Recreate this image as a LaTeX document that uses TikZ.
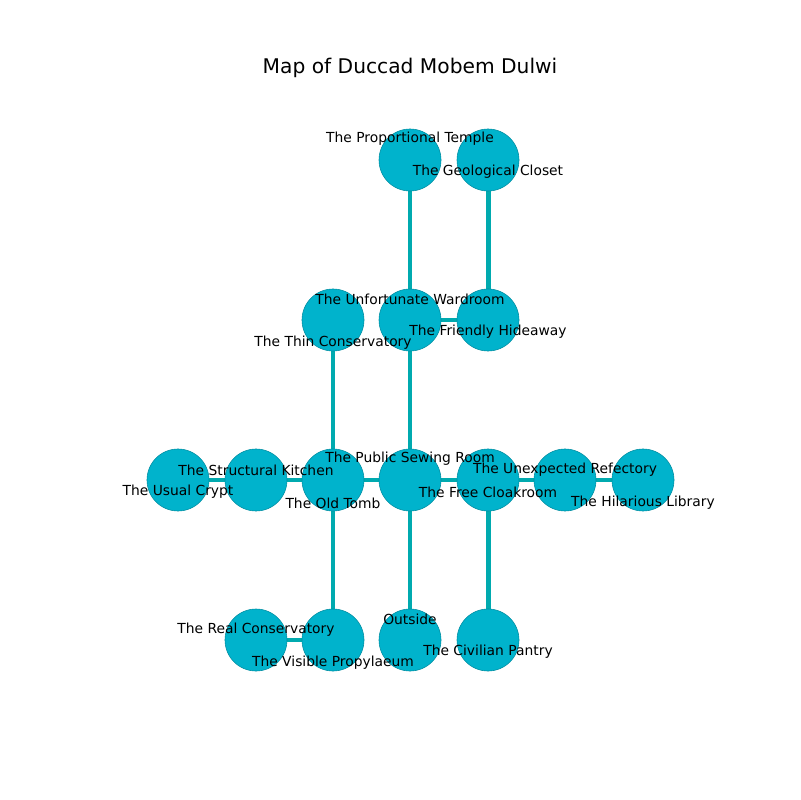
\documentclass[tikz,border=0pt]{standalone}
\usepackage{fontspec}
\setmainfont{DejaVu Sans}
\usetikzlibrary{backgrounds}
\definecolor{roomfill}{RGB}{0,179,204}
\definecolor{roomline}{RGB}{0,140,160}
\definecolor{passage}{RGB}{0,170,175}

\begin{document}
\begin{tikzpicture}
    [x=0.01in, y=-0.01in,
    room/.style={circle, fill=roomfill, draw=roomline, line width=0.4pt,
      minimum size=0.62in, inner sep=0pt},
    tag/.style={font=\fontsize{10}{12}\selectfont, inner sep=0pt},
    tagup/.style={tag, yshift=0.21in},
    taghi/.style={tag, yshift=0.10in},
    taglo/.style={tag, yshift=-0.12in},
    tagdown/.style={tag, yshift=-0.23in},
    link/.style={line width=3.6pt, draw=passage}]
    \useasboundingbox (0,0) rectangle (800,800);
    \node[font=\fontsize{14.6}{17}\selectfont] (title) at (410,68) {Map of Duccad Mobem Dulwi};

    % top row
    \node[room] (temple) at (410,160) {};
    \node[room] (closet) at (488,160) {};
    % second row
    \node[room] (thin) at (333,320) {};
    \node[room] (wardroom) at (410,320) {};
    \node[room] (hideaway) at (488,320) {};
    % middle row
    \node[room] (crypt) at (178,480) {};
    \node[room] (kitchen) at (256,480) {};
    \node[room] (tomb) at (333,480) {};
    \node[room] (sewing) at (410,480) {};
    \node[room] (cloakroom) at (488,480) {};
    \node[room] (refectory) at (565,480) {};
    \node[room] (library) at (643,480) {};
    % bottom row
    \node[room] (realcons) at (256,640) {};
    \node[room] (propylaeum) at (333,640) {};
    \node[room] (outside) at (410,640) {};
    \node[room] (pantry) at (488,640) {};

    \begin{scope}[on background layer]
      \draw[link] (temple.center) -- (wardroom.center);
      \draw[link] (closet.center) -- (hideaway.center);
      \draw[link] (wardroom.center) -- (hideaway.center);
      \draw[link] (wardroom.center) -- (sewing.center);
      \draw[link] (thin.center) -- (tomb.center);
      \draw[link] (crypt.center) -- (kitchen.center);
      \draw[link] (kitchen.center) -- (tomb.center);
      \draw[link] (tomb.center) -- (sewing.center);
      \draw[link] (sewing.center) -- (cloakroom.center);
      \draw[link] (cloakroom.center) -- (refectory.center);
      \draw[link] (refectory.center) -- (library.center);
      \draw[link] (tomb.center) -- (propylaeum.center);
      \draw[link] (realcons.center) -- (propylaeum.center);
      \draw[link] (sewing.center) -- (outside.center);
      \draw[link] (cloakroom.center) -- (pantry.center);
    \end{scope}

    % room names on top
    \node[tagup] (temple-tag) at (temple) {The Proportional Temple};
    \node[taglo] (closet-tag) at (closet) {The Geological Closet};
    \node[tagdown] (thin-tag) at (thin) {The Thin Conservatory};
    \node[tagup] (wardroom-tag) at (wardroom) {The Unfortunate Wardroom};
    \node[taglo] (hideaway-tag) at (hideaway) {The Friendly Hideaway};
    \node[taglo] (crypt-tag) at (crypt) {The Usual Crypt};
    \node[taghi] (kitchen-tag) at (kitchen) {The Structural Kitchen};
    \node[tagdown] (tomb-tag) at (tomb) {The Old Tomb};
    \node[tagup] (sewing-tag) at (sewing) {The Public Sewing Room};
    \node[taglo] (cloakroom-tag) at (cloakroom) {The Free Cloakroom};
    \node[taghi] (refectory-tag) at (refectory) {The Unexpected Refectory};
    \node[tagdown] (library-tag) at (library) {The Hilarious Library};
    \node[taghi] (realcons-tag) at (realcons) {The Real Conservatory};
    \node[tagdown] (propylaeum-tag) at (propylaeum) {The Visible Propylaeum};
    \node[tagup] (outside-tag) at (outside) {Outside};
    \node[taglo] (pantry-tag) at (pantry) {The Civilian Pantry};
\end{tikzpicture}
\end{document}
